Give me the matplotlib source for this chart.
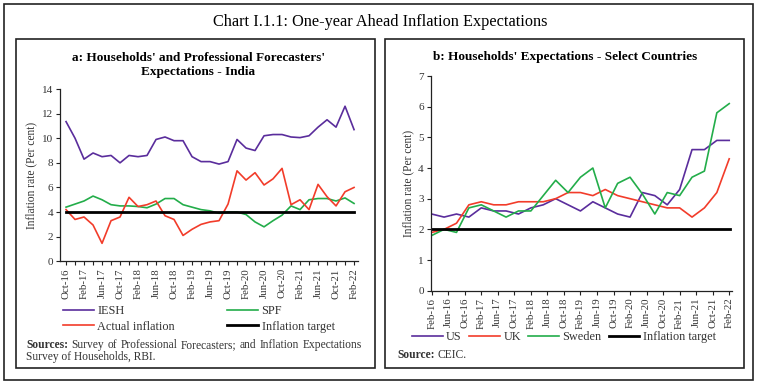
import numpy as np
import matplotlib
matplotlib.use('Agg')
from matplotlib import pyplot as plt
from matplotlib.patches import Rectangle

plt.rcParams['font.family'] = ['Liberation Serif', 'DejaVu Serif']

# ---- panel a: India (bimonthly, Oct-16 .. Feb-22)
india_labels = ['Oct-16', 'Feb-17', 'Jun-17', 'Oct-17', 'Feb-18', 'Jun-18', 'Oct-18',
                'Feb-19', 'Jun-19', 'Oct-19', 'Feb-20', 'Jun-20', 'Oct-20', 'Feb-21',
                'Jun-21', 'Oct-21', 'Feb-22']
iesh = [11.35, 10.0, 8.3, 8.8, 8.5, 8.6, 8.0, 8.6, 8.5, 8.6, 9.9, 10.1, 9.8, 9.8, 8.5,
        8.1, 8.1, 7.9, 8.1, 9.9, 9.2, 9.0, 10.2, 10.3, 10.3, 10.1, 10.05, 10.2, 10.9,
        11.5, 10.9, 12.6, 10.7]
spf = [4.4, 4.65, 4.9, 5.3, 5.0, 4.6, 4.5, 4.5, 4.45, 4.35, 4.65, 5.1, 5.1, 4.6, 4.4,
       4.2, 4.1, 3.9, 4.0, 4.0, 3.8, 3.2, 2.8, 3.3, 3.75, 4.5, 4.2, 5.0, 5.1, 5.1, 4.9,
       5.15, 4.7]
actual = [4.2, 3.4, 3.6, 2.95, 1.46, 3.3, 3.6, 5.2, 4.45, 4.6, 4.9, 3.7, 3.4, 2.1, 2.6,
          3.0, 3.2, 3.3, 4.65, 7.35, 6.6, 7.2, 6.2, 6.7, 7.55, 4.6, 5.0, 4.2, 6.25, 5.25,
          4.5, 5.65, 6.0]
india_target = 4

# ---- panel b: select countries (quarterly, Feb-16 .. Feb-22)
country_labels = ['Feb-16', 'Jun-16', 'Oct-16', 'Feb-17', 'Jun-17', 'Oct-17', 'Feb-18',
                  'Jun-18', 'Oct-18', 'Feb-19', 'Jun-19', 'Oct-19', 'Feb-20', 'Jun-20',
                  'Oct-20', 'Feb-21', 'Jun-21', 'Oct-21', 'Feb-22']
us = [2.5, 2.4, 2.5, 2.4, 2.7, 2.6, 2.6, 2.5, 2.7, 2.8, 3.0, 2.8, 2.6, 2.9, 2.7, 2.5,
      2.4, 3.2, 3.1, 2.8, 3.3, 4.6, 4.6, 4.9, 4.9]
uk = [1.9, 2.0, 2.2, 2.8, 2.9, 2.8, 2.8, 2.9, 2.9, 2.9, 3.0, 3.2, 3.2, 3.1, 3.3, 3.1,
      3.0, 2.9, 2.8, 2.7, 2.7, 2.4, 2.7, 3.2, 4.3]
sweden = [1.8, 2.0, 1.9, 2.7, 2.8, 2.6, 2.4, 2.6, 2.6, 3.1, 3.6, 3.2, 3.7, 4.0, 2.7,
          3.5, 3.7, 3.15, 2.5, 3.2, 3.1, 3.7, 3.9, 5.8, 6.1]
country_target = 2

PURPLE = '#5a2d9c'
RED = '#f23c2a'
GREEN = '#23ad4a'

W, H = 762, 387
fig = plt.figure(figsize=(W / 100, H / 100), dpi=100)


def box(x0, y0, x1, y1, lw=1.2):
    fig.patches.append(Rectangle((x0 / W, 1 - y1 / H), (x1 - x0) / W, (y1 - y0) / H,
                                 transform=fig.transFigure, fill=False,
                                 edgecolor='#222222', linewidth=lw))


def fx(x):
    return x / W


def fy(y):
    return 1 - y / H


box(4, 4, 753, 380)
box(16, 39, 375, 368)
box(385, 39, 744, 368)

fig.text(fx(380), fy(22), 'Chart I.1.1: One-year Ahead Inflation Expectations',
         ha='center', va='center', fontsize=11.7)
fig.text(fx(198), fy(65), "a: Households' and Professional Forecasters'\nExpectations - India",
         ha='center', va='center', fontsize=9.5, fontweight='bold', linespacing=1.3)
fig.text(fx(565), fy(57), "b: Households' Expectations - Select Countries",
         ha='center', va='center', fontsize=9.5, fontweight='bold')


def style(ax):
    for s in ['top', 'right']:
        ax.spines[s].set_visible(False)
    for s in ['left', 'bottom']:
        ax.spines[s].set_linewidth(0.9)
        ax.spines[s].set_color('#222222')
    ax.tick_params(axis='both', length=3, width=0.8, color='#222222',
                   labelcolor='#333333', pad=2)
    ax.tick_params(axis='y', labelsize=8)
    ax.tick_params(axis='x', labelsize=7.8, labelrotation=90)
    ax.set_ylabel('Inflation rate (Per cent)', fontsize=8.3, color='#333333', labelpad=3)


# panel a
ax1 = fig.add_axes([fx(60), fy(261.3), fx(298), (261.3 - 89) / H])
xa = np.arange(len(iesh))
l1, = ax1.plot(xa, iesh, color=PURPLE, lw=1.2)
l2, = ax1.plot(xa, spf, color=GREEN, lw=1.2)
l3, = ax1.plot(xa, actual, color=RED, lw=1.2)
l4 = ax1.axhline(india_target, xmin=0.02, xmax=0.985, color='black', lw=2)
ax1.set_ylim(0, 14)
ax1.set_yticks(range(0, 15, 2))
ax1.set_xlim(-0.67, 32.44)
ax1.set_xticks(xa)
ax1.set_xticklabels([india_labels[i // 2] if i % 2 == 0 else '' for i in xa])
style(ax1)
ax1.legend([l1, l3, l2, l4], ['IESH', 'Actual inflation', 'SPF', 'Inflation target'],
           ncol=2, loc='upper left', bbox_to_anchor=(fx(63), fy(305)),
           bbox_transform=fig.transFigure, frameon=False, fontsize=8.8,
           handlelength=2.5, handletextpad=0.3, columnspacing=4.3, labelspacing=0.3,
           borderaxespad=0, borderpad=0, labelcolor='#333333')

# panel b
ax2 = fig.add_axes([fx(430.7), fy(290.7), fx(301), (290.7 - 76) / H])
xb = np.arange(len(us)) * 3
m1, = ax2.plot(xb, us, color=PURPLE, lw=1.2)
m2, = ax2.plot(xb, uk, color=RED, lw=1.2)
m3, = ax2.plot(xb, sweden, color=GREEN, lw=1.2)
m4 = ax2.axhline(country_target, xmin=0.004, xmax=0.995, color='black', lw=2)
ax2.set_ylim(0, 7)
ax2.set_xlim(-0.24, 72.6)
ax2.set_xticks(np.arange(0, 73, 4))
ax2.set_xticklabels(country_labels)
style(ax2)
ax2.legend([m1, m2, m3, m4], ['US', 'UK', 'Sweden', 'Inflation target'],
           ncol=4, loc='upper left', bbox_to_anchor=(fx(412), fy(331)),
           bbox_transform=fig.transFigure, frameon=False, fontsize=8.8,
           handlelength=2.5, handletextpad=0.3, columnspacing=0.6,
           borderaxespad=0, borderpad=0, labelcolor='#333333')

# source notes
renderer = fig.canvas.get_renderer()
NOTE = 8.3


def justified(words, x0, x1, y):
    items = []
    for k, w in enumerate(words):
        t = fig.text(0, fy(y), w, fontsize=NOTE, va='center', color='#333333',
                     fontweight='bold' if k == 0 else 'normal')
        items.append(t)
    widths = [t.get_window_extent(renderer).width for t in items]
    gap = (x1 - x0 - sum(widths)) / (len(words) - 1)
    x = x0
    for t, wdt in zip(items, widths):
        t.set_x(fx(x))
        x += wdt + gap


justified(['Sources:', 'Survey', 'of', 'Professional', 'Forecasters;', 'and', 'Inflation',
           'Expectations'], 26, 362, 345)
fig.text(fx(26), fy(357), 'Survey of Households, RBI.', fontsize=NOTE, va='center',
         color='#333333')
src = fig.text(fx(397), fy(355), 'Source:', fontsize=NOTE, va='center', fontweight='bold',
               color='#333333')
sw = src.get_window_extent(renderer).width
fig.text(fx(397 + sw + 3), fy(355), 'CEIC.', fontsize=NOTE, va='center', color='#333333')

fig.savefig('out.png', dpi=100)
